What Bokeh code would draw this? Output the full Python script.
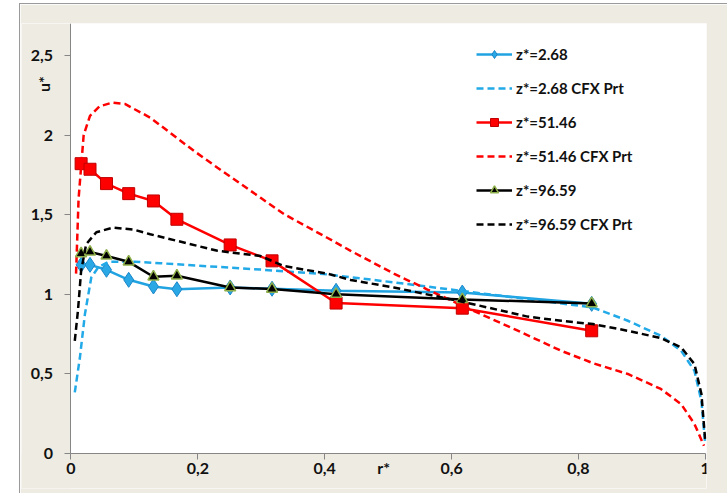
from bokeh.plotting import figure
from bokeh.models import Range1d, FixedTicker, Label, Legend, LegendItem, BoxAnnotation
from bokeh.embed import file_html
from bokeh.resources import INLINE
from math import pi

# ---------------- data ----------------
r_exp = [0.016, 0.030, 0.056, 0.091, 0.130, 0.167, 0.251, 0.317, 0.418, 0.617, 0.821]
u_268 = [1.185, 1.185, 1.154, 1.091, 1.049, 1.032, 1.043, 1.035, 1.022, 1.011, 0.940]
u_5146 = [1.820, 1.785, 1.695, 1.632, 1.586, 1.471, 1.310, 1.210, 0.945, 0.913, 0.771]
u_9659 = [1.256, 1.266, 1.241, 1.204, 1.110, 1.116, 1.043, 1.033, 1.001, 0.968, 0.942]

r_cfx_268 = [0.006, 0.014, 0.022, 0.032, 0.043, 0.060, 0.100, 0.141, 0.200, 0.299, 0.404,
             0.509, 0.615, 0.720, 0.823, 0.878, 0.930, 0.962, 0.983, 0.994, 1.000]
u_cfx_268 = [0.384, 0.600, 0.876, 1.105, 1.170, 1.205, 1.205, 1.195, 1.180, 1.155, 1.125,
             1.075, 1.022, 0.970, 0.917, 0.834, 0.740, 0.646, 0.520, 0.330, 0.060]

r_cfx_5146 = [0.008, 0.012, 0.020, 0.030, 0.045, 0.065, 0.085, 0.125, 0.194, 0.231, 0.299,
              0.336, 0.404, 0.441, 0.509, 0.562, 0.646, 0.700, 0.773, 0.825, 0.878, 0.930,
              0.962, 0.983, 0.998]
u_cfx_5146 = [1.130, 1.600, 2.000, 2.120, 2.180, 2.203, 2.195, 2.109, 1.900, 1.795, 1.606,
              1.503, 1.355, 1.273, 1.130, 1.030, 0.876, 0.780, 0.645, 0.565, 0.500, 0.406,
              0.311, 0.186, 0.050]

r_cfx_9659 = [0.006, 0.011, 0.016, 0.024, 0.040, 0.067, 0.100, 0.125, 0.231, 0.299, 0.336,
              0.404, 0.441, 0.509, 0.615, 0.720, 0.773, 0.823, 0.878, 0.930, 0.962, 0.983,
              0.994, 1.000]
u_cfx_9659 = [0.708, 0.897, 1.147, 1.315, 1.390, 1.419, 1.405, 1.377, 1.273, 1.240, 1.177,
              1.130, 1.090, 1.043, 0.955, 0.860, 0.834, 0.813, 0.771, 0.725, 0.667, 0.562,
              0.374, 0.080]

x_ticks = [0, 0.2, 0.4, 0.6, 0.8, 1]
x_tick_labels = ["0", "0,2", "0,4", "0,6", "0,8", "1"]
y_ticks = [0, 0.5, 1, 1.5, 2, 2.5]
y_tick_labels = ["0", "0,5", "1", "1,5", "2", "2,5"]

series_names = ["z*=2.68", "z*=2.68 CFX Prt", "z*=51.46", "z*=51.46 CFX Prt",
                "z*=96.59", "z*=96.59 CFX Prt"]

# ---------------- styling ----------------
FONT = "Lato"
BLUE = "#20A3E0"
RED = "#FF0000"
BLACK = "#000000"
AXIS = "#868686"
BEIGE = "#EEEBE2"
TXT = "#111111"

# the frame covers the whole chart area; the axes sit at r*=0 and u*=0 inside it
p = figure(width=707, height=489, output_backend="svg", toolbar_location=None,
           x_range=Range1d(-0.078, 1.002), y_range=Range1d(-0.219, 2.7),
           min_border_left=1, min_border_right=21, min_border_top=19, min_border_bottom=5,
           background_fill_color="white", border_fill_color=BEIGE)
p.margin = (4, 0, 0, 20)
p.styles = {"outline": "1px solid #9a9a9a"}
p.outline_line_color = None
p.grid.visible = False

# beige surround outside the plotting area (under the axes)
p.add_layout(BoxAnnotation(right=0, fill_color=BEIGE, fill_alpha=1, line_color=None, level="underlay"))
p.add_layout(BoxAnnotation(top=0, fill_color=BEIGE, fill_alpha=1, line_color=None, level="underlay"))

for ax, ticks, labels, bnd in ((p.xaxis[0], x_ticks, x_tick_labels, (0, 1)),
                               (p.yaxis[0], y_ticks, y_tick_labels, (0, 2.7))):
    ax.fixed_location = 0
    ax.bounds = bnd
    ax.ticker = FixedTicker(ticks=ticks)
    ax.major_label_overrides = {t: l for t, l in zip(ticks, labels)}
    ax.axis_line_color = AXIS
    ax.major_tick_line_color = AXIS
    ax.minor_tick_line_color = None
    ax.major_tick_out = 6
    ax.major_tick_in = 0
    ax.major_label_text_font = FONT
    ax.major_label_text_font_style = "bold"
    ax.major_label_text_font_size = "16px"
    ax.major_label_text_color = TXT
p.xaxis.major_label_standoff = 3
p.yaxis.major_label_standoff = 12

# ---------------- glyphs ----------------
items = []
l1 = p.line(r_exp, u_268, line_color=BLUE, line_width=2.5)
m1 = p.scatter(r_exp, u_268, marker="diamond", size=15, fill_color="#2AA8E6",
               line_color="#1A86C8", line_width=1)
items.append(LegendItem(label=series_names[0], renderers=[l1, m1]))

d1 = p.line(r_cfx_268, u_cfx_268, line_color="#22AAE8", line_width=2.5, line_dash="7 4")
items.append(LegendItem(label=series_names[1], renderers=[d1]))

l2 = p.line(r_exp, u_5146, line_color=RED, line_width=2.5)
m2 = p.scatter(r_exp, u_5146, marker="square", size=12, fill_color=RED,
               line_color="#C00000", line_width=1)
items.append(LegendItem(label=series_names[2], renderers=[l2, m2]))

d2 = p.line(r_cfx_5146, u_cfx_5146, line_color=RED, line_width=2.5, line_dash="7 4")
items.append(LegendItem(label=series_names[3], renderers=[d2]))

l3 = p.line(r_exp, u_9659, line_color=BLACK, line_width=2.5)
m3 = p.scatter(r_exp, u_9659, marker="triangle", size=11, fill_color=BLACK,
               line_color="#8FAF4A", line_width=1.5)
items.append(LegendItem(label=series_names[4], renderers=[l3, m3]))

d3 = p.line(r_cfx_9659, u_cfx_9659, line_color=BLACK, line_width=2.5, line_dash="7 4")
items.append(LegendItem(label=series_names[5], renderers=[d3]))

legend = Legend(items=items, location=(455, 254), padding=0, margin=0,
                border_line_color=None, background_fill_color="white", background_fill_alpha=1,
                glyph_width=36, glyph_height=20, label_height=20, spacing=14, label_standoff=4,
                label_text_font=FONT, label_text_font_style="bold", label_text_font_size="15px",
                label_text_color=TXT)
p.add_layout(legend)

# axis titles, placed as in the original
p.add_layout(Label(x=-0.0436, y=2.32, text="u*", angle=pi / 2, text_align="center",
                   text_baseline="middle", text_font=FONT, text_font_style="bold",
                   text_font_size="16px", text_color=TXT))
p.add_layout(Label(x=0.493, y=-0.088, text="r*", text_align="center",
                   text_baseline="middle", text_font=FONT, text_font_style="bold",
                   text_font_size="16px", text_color=TXT))

open("out.html", "w").write(file_html(p, INLINE))
